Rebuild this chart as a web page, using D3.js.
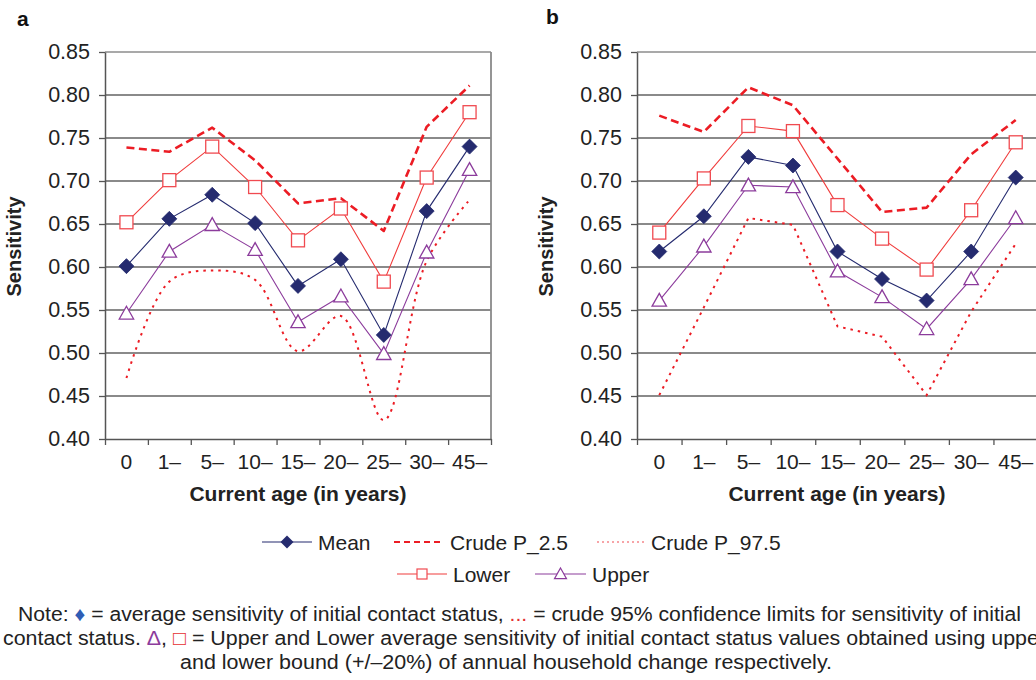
<!DOCTYPE html>
<html>
<head>
<meta charset="utf-8">
<script src="https://cdn.jsdelivr.net/npm/d3@7"></script>
<style>
  html, body { margin: 0; padding: 0; background: #fff; }
  svg { display: block; font-family: "Liberation Sans", Arial, Helvetica, sans-serif; }
</style>
</head>
<body>
<svg id="chart" width="1036" height="680"></svg>
<script>
// ---------- data ----------
const categories = ["0", "1–", "5–", "10–", "15–", "20–", "25–", "30–", "45–"];
const yTicks = [0.40, 0.45, 0.50, 0.55, 0.60, 0.65, 0.70, 0.75, 0.80, 0.85];

// Panel a
const meanA   = [0.601, 0.656, 0.684, 0.651, 0.578, 0.609, 0.521, 0.665, 0.740];
const lowerA  = [0.652, 0.701, 0.740, 0.693, 0.631, 0.668, 0.583, 0.704, 0.780];
const upperA  = [0.546, 0.618, 0.649, 0.620, 0.536, 0.566, 0.499, 0.617, 0.713];
const p025A   = [0.739, 0.734, 0.762, 0.724, 0.674, 0.680, 0.642, 0.763, 0.811];
const p975A   = [0.471, 0.583, 0.596, 0.585, 0.502, 0.543, 0.422, 0.607, 0.678];

// Panel b
const meanB   = [0.618, 0.659, 0.728, 0.718, 0.618, 0.586, 0.561, 0.618, 0.704];
const lowerB  = [0.640, 0.703, 0.764, 0.758, 0.672, 0.633, 0.597, 0.666, 0.745];
const upperB  = [0.561, 0.624, 0.695, 0.693, 0.595, 0.565, 0.528, 0.586, 0.657];
const p025B   = [0.776, 0.757, 0.809, 0.788, 0.726, 0.664, 0.669, 0.731, 0.771];
const p975B   = [0.451, 0.553, 0.657, 0.649, 0.531, 0.519, 0.451, 0.548, 0.627];

const legendLabels = ["Mean", "Crude P_2.5", "Crude P_97.5", "Lower", "Upper"];

// ---------- styles ----------
const C = {
  mean: "#252b6f",
  lower: "#f03c3c",
  lowerMk: "#f04a50",
  upper: "#8c3c9c",
  crude: "#ec1c24",
  grid: "#8a8a8a",
  axis: "#555"
};

const svg = d3.select("#chart");
svg.append("rect").attr("width", 1036).attr("height", 680).attr("fill", "#fff");

const diamondPath = s => `M0,${-s}L${s},0L0,${s}L${-s},0Z`;
const trianglePath = s => `M0,${-s}L${s},${s * 0.78}L${-s},${s * 0.78}Z`;

function drawPanel(opts) {
  const { left, right, top, bottom, letter, letterX, letterY, data, showRightBorder, smoothDotted } = opts;
  const g = svg.append("g");
  const x = d3.scaleBand().domain(categories).range([left, right]).paddingInner(0).paddingOuter(0);
  const y = d3.scaleLinear().domain([0.40, 0.85]).range([bottom, top]);
  const cx = c => x(c) + x.bandwidth() / 2;

  // gridlines
  g.append("g").selectAll("line").data(yTicks.filter(t => t > 0.40)).join("line")
    .attr("x1", left).attr("x2", right)
    .attr("y1", d => y(d)).attr("y2", d => y(d))
    .attr("stroke", d => d === 0.85 ? "#555" : C.grid)
    .attr("stroke-width", d => d === 0.85 ? 1.2 : 1.8);

  if (showRightBorder) {
    g.append("line").attr("x1", right).attr("x2", right).attr("y1", top).attr("y2", bottom)
      .attr("stroke", C.grid).attr("stroke-width", 1.8);
  }

  // y axis
  const ya = g.append("g").attr("transform", `translate(${left},0)`)
    .call(d3.axisLeft(y).tickValues(yTicks).tickFormat(d3.format(".2f")).tickSize(6).tickPadding(9).tickSizeOuter(0));
  ya.select(".domain").attr("stroke", C.axis).attr("stroke-width", 1.5);
  ya.selectAll(".tick line").attr("stroke", C.axis).attr("stroke-width", 1.3);
  ya.selectAll("text").attr("font-size", 21.5).attr("fill", "#222").attr("font-family", "Liberation Sans, Arial, sans-serif");

  // x axis: boundary ticks
  const xb = d3.scaleLinear().domain([0, categories.length]).range([left, right]);
  const xa1 = g.append("g").attr("transform", `translate(0,${bottom})`)
    .call(d3.axisBottom(xb).ticks(categories.length).tickFormat("").tickSize(6).tickSizeOuter(0));
  xa1.select(".domain").attr("stroke", C.axis).attr("stroke-width", 1.5);
  xa1.selectAll(".tick line").attr("stroke", C.axis).attr("stroke-width", 1.3);
  // category labels
  const xa2 = g.append("g").attr("transform", `translate(0,${bottom})`)
    .call(d3.axisBottom(x).tickSize(0).tickPadding(15));
  xa2.select(".domain").remove();
  xa2.selectAll("text").attr("font-size", 21).attr("fill", "#222").attr("font-family", "Liberation Sans, Arial, sans-serif");

  // axis titles
  g.append("text").attr("transform", `translate(${left - 84},${(top + bottom) / 2 + 1}) rotate(-90)`)
    .attr("text-anchor", "middle").attr("font-weight", "bold").attr("font-size", 20).attr("fill", "#222")
    .text("Sensitivity");
  g.append("text").attr("x", opts.xTitleX)
    .attr("y", 501).attr("text-anchor", "middle").attr("font-weight", "bold").attr("font-size", 21).attr("fill", "#222")
    .text("Current age (in years)");

  // panel letter
  g.append("text").attr("x", letterX).attr("y", letterY).attr("font-weight", "bold").attr("font-size", 21)
    .attr("fill", "#111").text(letter);

  const pts = arr => categories.map((c, i) => [cx(c), y(arr[i])]);
  const lin = d3.line();
  const smooth = d3.line().curve(d3.curveCatmullRom.alpha(0.5));

  // crude lines
  g.append("path").attr("d", (smoothDotted ? smooth : lin)(pts(data.p975))).attr("fill", "none")
    .attr("stroke", C.crude).attr("stroke-width", 2).attr("stroke-dasharray", "2.5,5");
  g.append("path").attr("d", lin(pts(data.p025))).attr("fill", "none")
    .attr("stroke", C.crude).attr("stroke-width", 2.6).attr("stroke-dasharray", "8,4.5")
    .attr("stroke-linejoin", "round");

  // series lines
  g.append("path").attr("d", lin(pts(data.lower))).attr("fill", "none").attr("stroke", C.lower).attr("stroke-width", 1.1);
  g.append("path").attr("d", lin(pts(data.upper))).attr("fill", "none").attr("stroke", C.upper).attr("stroke-width", 1.1);
  g.append("path").attr("d", lin(pts(data.mean))).attr("fill", "none").attr("stroke", C.mean).attr("stroke-width", 1.1);

  // markers
  g.append("g").selectAll("rect").data(pts(data.lower)).join("rect")
    .attr("x", d => d[0] - 6.5).attr("y", d => d[1] - 6.5).attr("width", 13).attr("height", 13)
    .attr("fill", "#fff").attr("stroke", C.lowerMk).attr("stroke-width", 1.3);
  g.append("g").selectAll("path").data(pts(data.upper)).join("path")
    .attr("transform", d => `translate(${d[0]},${d[1]})`).attr("d", trianglePath(7.2))
    .attr("fill", "#fff").attr("stroke", C.upper).attr("stroke-width", 1.3);
  g.append("g").selectAll("path").data(pts(data.mean)).join("path")
    .attr("transform", d => `translate(${d[0]},${d[1]})`).attr("d", diamondPath(7.5))
    .attr("fill", C.mean).attr("stroke", C.mean).attr("stroke-width", 0.8);
}

drawPanel({
  left: 105, right: 491, top: 52, bottom: 439, letter: "a", letterX: 17, letterY: 26,
  xTitleX: 298, showRightBorder: true, smoothDotted: true,
  data: { mean: meanA, lower: lowerA, upper: upperA, p025: p025A, p975: p975A }
});
drawPanel({
  left: 637, right: 1038, top: 52, bottom: 439, letter: "b", letterX: 546, letterY: 24,
  xTitleX: 837, showRightBorder: false, smoothDotted: false,
  data: { mean: meanB, lower: lowerB, upper: upperB, p025: p025B, p975: p975B }
});

// ---------- legend ----------
const lg = svg.append("g").attr("font-size", 21).attr("fill", "#222");
function legendItem(x1, x2, yc, label, kind) {
  const g = lg.append("g");
  const mid = (x1 + x2) / 2;
  if (kind === "mean") {
    g.append("line").attr("x1", x1).attr("x2", x2).attr("y1", yc).attr("y2", yc).attr("stroke", C.mean).attr("stroke-width", 1.2);
    g.append("path").attr("transform", `translate(${mid},${yc})`).attr("d", diamondPath(6.5)).attr("fill", C.mean);
  } else if (kind === "p025") {
    g.append("line").attr("x1", x1).attr("x2", x2).attr("y1", yc).attr("y2", yc).attr("stroke", C.crude)
      .attr("stroke-width", 2.2).attr("stroke-dasharray", "6,4");
  } else if (kind === "p975") {
    g.append("line").attr("x1", x1).attr("x2", x2).attr("y1", yc).attr("y2", yc).attr("stroke", "#f04a50")
      .attr("stroke-width", 1.1).attr("stroke-dasharray", "2,3");
  } else if (kind === "lower") {
    g.append("line").attr("x1", x1).attr("x2", x2).attr("y1", yc).attr("y2", yc).attr("stroke", C.lower).attr("stroke-width", 1.2);
    g.append("rect").attr("x", mid - 5).attr("y", yc - 5).attr("width", 10).attr("height", 10)
      .attr("fill", "#fff").attr("stroke", C.lowerMk).attr("stroke-width", 1.2);
  } else if (kind === "upper") {
    g.append("line").attr("x1", x1).attr("x2", x2).attr("y1", yc).attr("y2", yc).attr("stroke", C.upper).attr("stroke-width", 1.2);
    g.append("path").attr("transform", `translate(${mid},${yc})`).attr("d", trianglePath(6))
      .attr("fill", "#fff").attr("stroke", C.upper).attr("stroke-width", 1.2);
  }
  g.append("text").attr("x", x2 + 6).attr("y", yc + 7.5).text(label);
}
legendItem(262, 312, 542, legendLabels[0], "mean");
legendItem(394, 444, 542, legendLabels[1], "p025");
legendItem(597, 645, 542, legendLabels[2], "p975");
legendItem(397, 447, 574, legendLabels[3], "lower");
legendItem(535, 586, 574, legendLabels[4], "upper");

// ---------- note ----------
const nt = svg.append("g").attr("font-size", 20).attr("fill", "#222")
  .attr("font-family", "'Liberation Sans Narrow', 'Liberation Sans', Arial, sans-serif");
const n1 = nt.append("text").attr("x", 18).attr("y", 621).attr("textLength", 1003).attr("lengthAdjust", "spacingAndGlyphs");
n1.append("tspan").text("Note: ");
n1.append("tspan").attr("fill", "#2f5db5").text("♦");
n1.append("tspan").text(" = average sensitivity of initial contact status, ");
n1.append("tspan").attr("fill", "#e53030").text("...");
n1.append("tspan").text(" = crude 95% confidence limits for sensitivity of initial");

const n2 = nt.append("text").attr("x", 3).attr("y", 645).attr("textLength", 1043).attr("lengthAdjust", "spacingAndGlyphs");
n2.append("tspan").text("contact status. ");
n2.append("tspan").attr("fill", "#8c3c9c").text("Δ");
n2.append("tspan").text(", ");
n2.append("tspan").attr("fill", "#e53030").text("□");
n2.append("tspan").text(" = Upper and Lower average sensitivity of initial contact status values obtained using upper");

nt.append("text").attr("x", 180).attr("y", 669).attr("textLength", 652).attr("lengthAdjust", "spacingAndGlyphs")
  .text("and lower bound (+/–20%) of annual household change respectively.");
</script>
</body>
</html>
